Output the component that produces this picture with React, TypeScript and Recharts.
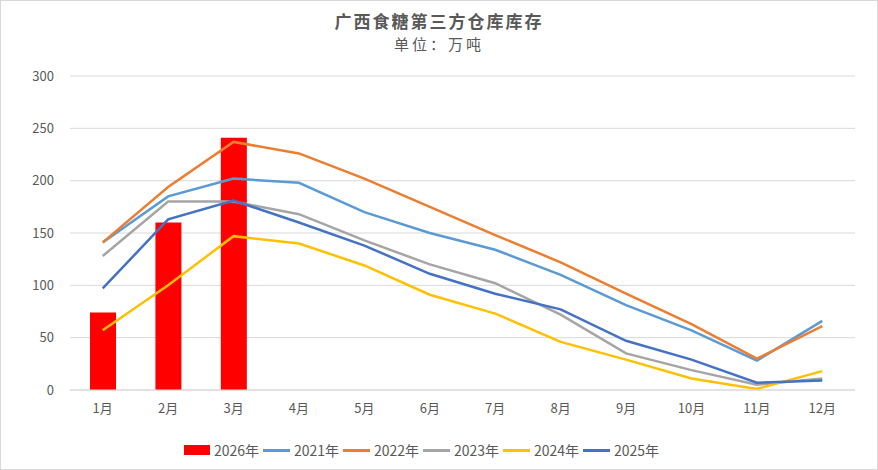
import React from 'react';
import { ComposedChart, Bar, Line, XAxis, YAxis, CartesianGrid } from 'recharts';

const months = ['1月', '2月', '3月', '4月', '5月', '6月', '7月', '8月', '9月', '10月', '11月', '12月'];
const s2026 = [74, 160, 241, null, null, null, null, null, null, null, null, null];
const s2021 = [141, 185, 202, 198, 170, 150, 134, 110, 81, 57, 28, 66];
const s2022 = [141, 194, 237, 226, 202, 175, 148, 122, 92, 63, 30, 61];
const s2023 = [128, 180, 180, 168, 143, 120, 102, 72, 35, 19, 5, 11];
const s2024 = [57, 100, 147, 140, 119, 91, 73, 46, 29, 11, 1, 18];
const s2025 = [97, 163, 181, 160, 138, 111, 92, 77, 47, 29, 7, 9];
const yTicks = [0, 50, 100, 150, 200, 250, 300];

const data = months.map((m, i) => ({
  m,
  y2026: s2026[i],
  y2021: s2021[i],
  y2022: s2022[i],
  y2023: s2023[i],
  y2024: s2024[i],
  y2025: s2025[i],
}));

const lines = [
  { key: 'y2021', name: '2021年', color: '#5B9BD5' },
  { key: 'y2022', name: '2022年', color: '#ED7D31' },
  { key: 'y2023', name: '2023年', color: '#A5A5A5' },
  { key: 'y2024', name: '2024年', color: '#FFC000' },
  { key: 'y2025', name: '2025年', color: '#4472C4' },
];

const font = '"Noto Sans CJK SC", "Noto Sans", sans-serif';
const textColor = '#595959';

export default function App() {
  return (
    <div
      style={{
        position: 'absolute',
        left: 0,
        top: 0,
        width: 878,
        height: 470,
        border: '1px solid #d9d9d9',
        boxSizing: 'border-box',
        background: '#fff',
        fontFamily: font,
      }}
    >
      <div style={{ position: 'absolute', top: 7, width: '100%', textAlign: 'center', fontSize: 17, fontWeight: 'bold', color: textColor, lineHeight: '26px', letterSpacing: 2 }}>
        广西食糖第三方仓库库存
      </div>
      <div style={{ position: 'absolute', top: 32, width: '100%', textAlign: 'center', fontSize: 15, color: textColor, lineHeight: '22px', letterSpacing: 3 }}>
        单位：万吨
      </div>
      <div style={{ position: 'absolute', left: -1, top: -1 }}>
        <ComposedChart width={878} height={470} data={data} margin={{ top: 76, right: 23, bottom: 50, left: 0 }}>
          <CartesianGrid vertical={false} stroke="#d9d9d9" />
          <XAxis
            dataKey="m"
            height={30}
            tickLine={false}
            axisLine={{ stroke: '#d9d9d9' }}
            tick={{ fill: textColor, fontSize: 13, fontFamily: font }}
            tickMargin={8}
          />
          <YAxis
            width={70}
            domain={[0, 300]}
            ticks={yTicks}
            tickLine={false}
            axisLine={false}
            tick={{ fill: textColor, fontSize: 13, fontFamily: font }}
            tickMargin={10}
          />
          <Bar dataKey="y2026" fill="#FF0000" barSize={26} isAnimationActive={false} />
          {lines.map((l) => (
            <Line
              key={l.key}
              dataKey={l.key}
              stroke={l.color}
              strokeWidth={2.5}
              dot={false}
              activeDot={false}
              type="linear"
              isAnimationActive={false}
            />
          ))}
        </ComposedChart>
      </div>
      <div
        style={{
          position: 'absolute',
          top: 440,
          left: 183,
          display: 'flex',
          alignItems: 'center',
          fontSize: 14,
          color: textColor,
          lineHeight: '18px',
          whiteSpace: 'nowrap',
        }}
      >
        <div style={{ display: 'flex', alignItems: 'center', width: 79 }}>
          <span style={{ display: 'inline-block', width: 26, height: 10, background: '#FF0000', marginRight: 4 }} />
          2026年
        </div>
        {lines.map((l) => (
          <div key={l.key} style={{ display: 'flex', alignItems: 'center', width: 80 }}>
            <span style={{ display: 'inline-block', width: 27, height: 3, background: l.color, marginRight: 4 }} />
            {l.name}
          </div>
        ))}
      </div>
    </div>
  );
}
